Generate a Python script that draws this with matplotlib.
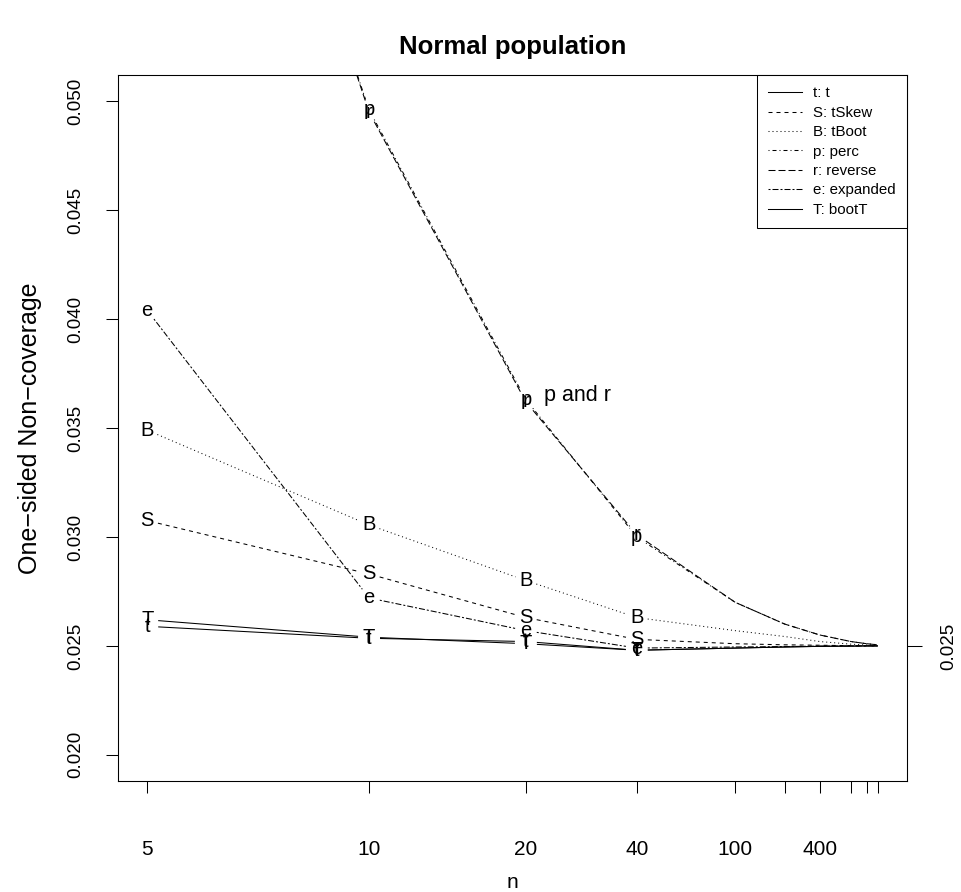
import numpy as np
import matplotlib
matplotlib.use("Agg")
import matplotlib.pyplot as plt
from matplotlib.lines import Line2D

plt.rcParams['font.family'] = ['Liberation Sans', 'DejaVu Sans']
plt.rcParams['lines.scale_dashes'] = False

# ---------------- data ----------------
n_values = [5, 10, 20, 40, 100, 200, 400, 1000, 2000, 4000]
letter_n = [5, 10, 20, 40]          # sample sizes marked with a letter

t_vals = [0.0259, 0.02535, 0.0252, 0.0248, 0.0249, 0.02495, 0.02498, 0.02499, 0.025, 0.025]
S_vals = [0.03075, 0.0283, 0.0263, 0.0253, 0.0251, 0.02505, 0.02503, 0.02501, 0.025, 0.025]
B_vals = [0.0349, 0.03055, 0.0280, 0.0263, 0.0257, 0.02543, 0.0252, 0.02508, 0.02504, 0.02502]
p_vals = [0.0800, 0.0496, 0.0363, 0.0300, 0.0270, 0.0260, 0.0255, 0.0252, 0.0251, 0.02505]
r_vals = [0.0802, 0.0495, 0.0362, 0.0301, 0.0270, 0.0260, 0.0255, 0.0252, 0.0251, 0.02505]
e_vals = [0.0404, 0.0272, 0.0257, 0.0249, 0.02495, 0.02497, 0.02499, 0.025, 0.025, 0.025]
T_vals = [0.0262, 0.0254, 0.0251, 0.0248, 0.0249, 0.02495, 0.02498, 0.02499, 0.025, 0.025]

letters = ['t', 'S', 'B', 'p', 'r', 'e', 'T']
legend_labels = ['t: t', 'S: tSkew', 'B: tBoot', 'p: perc', 'r: reverse', 'e: expanded', 'T: bootT']
series = [t_vals, S_vals, B_vals, p_vals, r_vals, e_vals, T_vals]

x_tick_n = [5, 10, 20, 40, 100, 200, 400, 1000, 2000, 4000]
x_tick_labels = ['5', '10', '20', '40', '100', '', '400', '', '', '']
y_ticks = [0.020, 0.025, 0.030, 0.035, 0.040, 0.045, 0.050]
y_range = (0.020, 0.050)
right_tick = 0.025
note_text = 'p and r'
note_n, note_y = 22, 0.0365

# R line types (units ~ 1px = 0.72pt)
u = 0.72
styles = ['-',
          (0, (4*u, 4*u)),
          (0, (1*u, 3*u)),
          (0, (1*u, 3*u, 4*u, 3*u)),
          (0, (7*u, 3*u)),
          (0, (2*u, 2*u, 6*u, 2*u)),
          '-']

# ---------------- figure ----------------
W, H = 962, 892
fig = plt.figure(figsize=(W/100, H/100), dpi=100)
L, R, T, B = 118, 907, 75, 781
ax = fig.add_axes([L/W, 1 - B/H, (R-L)/W, (B-T)/H])

def tx(n):
    return 1.0/np.sqrt(np.asarray(n, dtype=float))

xs = tx(n_values)
xr = xs.max() - xs.min()
ax.set_xlim(xs.max() + 0.04*xr, xs.min() - 0.04*xr)
yr = y_range[1] - y_range[0]
ax.set_ylim(y_range[0] - 0.04*yr, y_range[1] + 0.04*yr)

lw = 0.75
for sp in ax.spines.values():
    sp.set_linewidth(lw)

ax.set_xticks(tx(x_tick_n))
ax.set_xticklabels(x_tick_labels)
ax.set_yticks(y_ticks)
ax.set_yticklabels(['%.3f' % v for v in y_ticks])
ax.tick_params(axis='x', direction='out', length=8.6, width=lw, pad=34, labelsize=15)
ax.tick_params(axis='y', direction='out', length=8.6, width=lw, pad=16, labelsize=13.5,
               labelrotation=90)
for lab in ax.get_yticklabels():
    lab.set_va('center')

ax2 = ax.twinx()
ax2.set_ylim(ax.get_ylim())
ax2.set_yticks([right_tick])
ax2.set_yticklabels(['%.3f' % right_tick])
ax2.tick_params(axis='y', direction='out', length=10.5, width=lw, pad=13.5, labelsize=13.5,
                labelrotation=90)
for lab in ax2.get_yticklabels():
    lab.set_va('center')
for sp in ax2.spines.values():
    sp.set_linewidth(lw)

gap = 11  # px gap around letters (type = "b")
nlet = len(letter_n)
data_to_disp = ax.transData
disp_to_data = ax.transData.inverted()

def draw_series(xv, yv, ls):
    pts = data_to_disp.transform(np.column_stack([xv, yv]))
    groups = [[i, i+1] for i in range(nlet-1)] + [list(range(nlet-1, len(xv)))]
    for g in groups:
        P = pts[g].copy()
        if g[0] < nlet:
            d = P[1] - P[0]
            P[0] = P[0] + d/np.linalg.norm(d)*gap
        if g[-1] < nlet:
            d = P[-1] - P[-2]
            P[-1] = P[-1] - d/np.linalg.norm(d)*gap
        D = disp_to_data.transform(P)
        ax.plot(D[:, 0], D[:, 1], color='black', lw=lw, linestyle=ls,
                solid_capstyle='butt', dash_capstyle='butt')

ylo, yhi = ax.get_ylim()
for let, vals, ls in zip(letters, series, styles):
    vals = np.asarray(vals)
    draw_series(xs, vals, ls)
    for i in range(nlet):
        if ylo <= vals[i] <= yhi:
            ax.text(xs[i], vals[i], let, ha='center', va='center', fontsize=14.5, zorder=5)

ax.text(tx(note_n), note_y, note_text, ha='left', va='center', fontsize=15.5)

handles = [Line2D([], [], color='black', lw=lw, linestyle=ls) for ls in styles]
leg = ax.legend(handles, legend_labels, loc='upper right', bbox_to_anchor=(1, 1),
                borderaxespad=0, fontsize=10.8, frameon=True, fancybox=False,
                edgecolor='black', framealpha=1, handlelength=2.3, handletextpad=0.7,
                labelspacing=0.36, borderpad=0.76)
leg.get_frame().set_linewidth(lw)

fig.text((L+R)/2/W, 1 - 47/H, 'Normal population', ha='center', va='center',
         fontsize=18.5, fontweight='bold')
fig.text((L+R)/2/W, 1 - 882/H, 'n', ha='center', va='center', fontsize=15)
fig.text(30/W, 1 - (T+B)/2/H, 'One\u2212sided Non\u2212coverage', ha='center', va='center',
         rotation=90, fontsize=18)

fig.savefig('out.png', dpi=100)
